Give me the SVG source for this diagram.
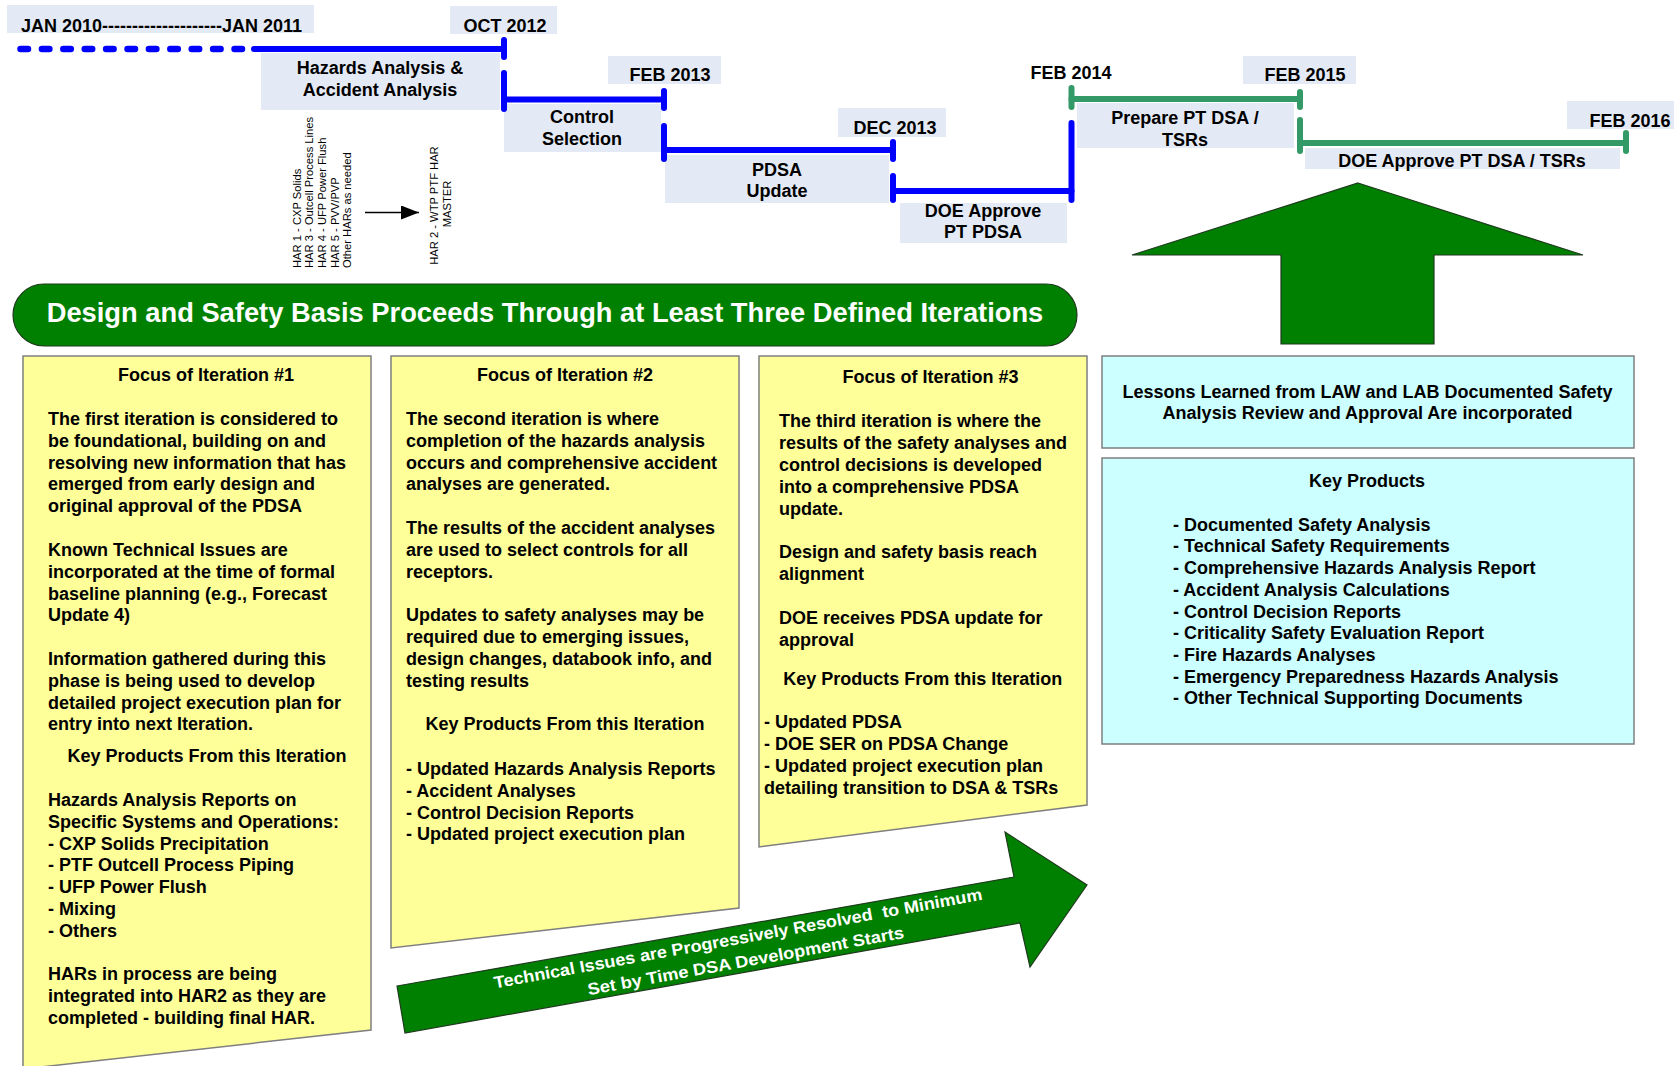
<svg xmlns="http://www.w3.org/2000/svg" width="1674" height="1066" viewBox="0 0 1674 1066">
  <style>
    text { font-family: "Liberation Sans", Arial, sans-serif; font-weight: bold; font-size: 18px; fill: #000; }
    .c { text-anchor: middle; }
    .tag { fill: #e4eaf5; }
    .blue { stroke: #0000ff; stroke-width: 6; stroke-linecap: round; fill: none; }
    .dash { stroke: #0000ff; stroke-width: 6.5; stroke-linecap: round; stroke-dasharray: 7.5 13.9; fill: none; }
    .green { stroke: #339966; stroke-width: 6; stroke-linecap: round; fill: none; }
    .note { font-weight: normal; font-size: 11.2px; }
    .yellow { fill: #ffff99; stroke: #7f7f7f; stroke-width: 1.5; }
    .cyan { fill: #ccffff; stroke: #7f7f7f; stroke-width: 1.5; }
    .bigarrow { fill: #008000; stroke: #1e3a1e; stroke-width: 1.2; }
    .white { fill: #ffffff; }
  </style>
  <defs>
    <marker id="head" viewBox="0 0 18 14" refX="18" refY="7" markerWidth="18" markerHeight="14" markerUnits="userSpaceOnUse" orient="auto">
      <path d="M0,0 L18,7 L0,14 Z" fill="#000"/>
    </marker>
  </defs>

  <rect width="1674" height="1066" fill="#ffffff"/>

  <!-- timeline phase labels -->
  <g id="tag-jan">
    <rect class="tag" x="7" y="5" width="307" height="28"/>
    <text x="21" y="31.5">JAN 2010--------------------JAN 2011</text>
  </g>
  <g id="tag-oct2012">
    <rect class="tag" x="450" y="6" width="107" height="28"/>
    <text class="c" x="505" y="32">OCT 2012</text>
  </g>
  <g id="phase-hazards">
    <rect class="tag" x="261" y="53" width="239" height="57"/>
    <text class="c" x="380" y="74">Hazards Analysis &amp;</text>
    <text class="c" x="380" y="95.5">Accident Analysis</text>
  </g>
  <g id="tag-feb2013">
    <rect class="tag" x="608" y="56" width="113" height="28"/>
    <text class="c" x="670" y="80.7">FEB 2013</text>
  </g>
  <g id="phase-control">
    <rect class="tag" x="504" y="104" width="157" height="48"/>
    <text class="c" x="582" y="123">Control</text>
    <text class="c" x="582" y="145">Selection</text>
  </g>
  <g id="tag-dec2013">
    <rect class="tag" x="838" y="108" width="108" height="29"/>
    <text class="c" x="895" y="134">DEC 2013</text>
  </g>
  <g id="phase-pdsa">
    <rect class="tag" x="665" y="155" width="224" height="48"/>
    <text class="c" x="777" y="176">PDSA</text>
    <text class="c" x="777" y="197.3">Update</text>
  </g>
  <g id="phase-doe-pdsa">
    <rect class="tag" x="900" y="203" width="167" height="40"/>
    <text class="c" x="983" y="216.7">DOE Approve</text>
    <text class="c" x="983" y="238.3">PT PDSA</text>
  </g>
  <g id="tag-feb2014">
    <text class="c" x="1071" y="79.3">FEB 2014</text>
  </g>
  <g id="phase-prepare">
    <rect class="tag" x="1077" y="103" width="217" height="45"/>
    <text class="c" x="1185" y="124">Prepare PT DSA /</text>
    <text class="c" x="1185" y="146">TSRs</text>
  </g>
  <g id="tag-feb2015">
    <rect class="tag" x="1243" y="56" width="113" height="28"/>
    <text class="c" x="1305" y="81">FEB 2015</text>
  </g>
  <g id="phase-doe-dsa">
    <rect class="tag" x="1305" y="148" width="315" height="21"/>
    <text class="c" x="1462" y="166.7">DOE Approve PT DSA / TSRs</text>
  </g>
  <g id="tag-feb2016">
    <rect class="tag" x="1567" y="101" width="107" height="28"/>
    <text class="c" x="1630" y="127.3">FEB 2016</text>
  </g>

  <!-- timeline bars -->
  <g id="connectors">
    <line class="dash" x1="20.5" y1="49" x2="254" y2="49"/>
    <line class="blue" x1="254" y1="49" x2="504" y2="49"/>
    <line class="blue" x1="504" y1="40" x2="504" y2="57"/>
    <line class="blue" x1="504" y1="73" x2="504" y2="109"/>
    <line class="blue" x1="504" y1="99.5" x2="664" y2="99.5"/>
    <line class="blue" x1="664" y1="91" x2="664" y2="108"/>
    <line class="blue" x1="664" y1="126" x2="664" y2="159"/>
    <line class="blue" x1="664" y1="150" x2="893" y2="150"/>
    <line class="blue" x1="893" y1="142" x2="893" y2="159"/>
    <line class="blue" x1="893" y1="176" x2="893" y2="200"/>
    <line class="blue" x1="893" y1="191" x2="1071.5" y2="191"/>
    <line class="blue" x1="1071.5" y1="123" x2="1071.5" y2="200"/>
    <line class="green" x1="1071.5" y1="88" x2="1071.5" y2="107"/>
    <line class="green" x1="1071.5" y1="99" x2="1300" y2="99"/>
    <line class="green" x1="1300" y1="92" x2="1300" y2="107"/>
    <line class="green" x1="1300" y1="120" x2="1300" y2="151"/>
    <line class="green" x1="1300" y1="143" x2="1626" y2="143"/>
    <line class="green" x1="1626" y1="133" x2="1626" y2="151"/>
    <line x1="365" y1="212.5" x2="419" y2="212.5" stroke="#000" stroke-width="1.4" marker-end="url(#head)"/>
  </g>

  <!-- HAR notes (vertical text) -->
  <g id="har-list" transform="translate(300.5 268) rotate(-90)">
    <text class="note">
      <tspan x="0" y="0">HAR 1 - CXP Solids</tspan>
      <tspan x="0" y="12.7">HAR 3 - Outcell Process Lines</tspan>
      <tspan x="0" y="25.4">HAR 4 - UFP Power Flush</tspan>
      <tspan x="0" y="38.1">HAR 5 - PVV/PVP</tspan>
      <tspan x="0" y="50.8">Other HARs as needed</tspan>
    </text>
  </g>
  <g id="har-master" transform="translate(438 204) rotate(-90)">
    <text class="note c">
      <tspan x="0" y="0">HAR 2 - WTP PTF HAR</tspan>
      <tspan x="0" y="12.7">MASTER</tspan>
    </text>
  </g>

  <!-- banner -->
  <g id="banner">
    <rect x="13" y="284" width="1064" height="62" rx="31" ry="31" class="bigarrow" stroke-width="1.5"/>
    <text class="c white" x="545" y="322" style="font-size:27.3px">Design and Safety Basis Proceeds Through at Least Three Defined Iterations</text>
  </g>

  <!-- iteration 1 -->
  <g id="iteration-1">
    <polygon class="yellow" points="23,356 371,356 371,1030 23,1069"/>
    <text class="c" x="206" y="381">Focus of Iteration #1</text>
    <text x="48">
      <tspan x="48" y="425">The first iteration is considered to</tspan>
      <tspan x="48" y="446.8">be foundational, building on and</tspan>
      <tspan x="48" y="468.6">resolving new information that has</tspan>
      <tspan x="48" y="490.4">emerged from early design and</tspan>
      <tspan x="48" y="512.2">original approval of the PDSA</tspan>
      <tspan x="48" y="556">Known Technical Issues are</tspan>
      <tspan x="48" y="577.8">incorporated at the time of formal</tspan>
      <tspan x="48" y="599.6">baseline planning (e.g., Forecast</tspan>
      <tspan x="48" y="621.4">Update 4)</tspan>
      <tspan x="48" y="665">Information gathered during this</tspan>
      <tspan x="48" y="686.8">phase is being used to develop</tspan>
      <tspan x="48" y="708.6">detailed project execution plan for</tspan>
      <tspan x="48" y="730.4">entry into next Iteration.</tspan>
    </text>
    <text class="c" x="207" y="761.7">Key Products From this Iteration</text>
    <text x="48">
      <tspan x="48" y="806">Hazards Analysis Reports on</tspan>
      <tspan x="48" y="827.8">Specific Systems and Operations:</tspan>
      <tspan x="48" y="849.6">- CXP Solids Precipitation</tspan>
      <tspan x="48" y="871.4">- PTF Outcell Process Piping</tspan>
      <tspan x="48" y="893.2">- UFP Power Flush</tspan>
      <tspan x="48" y="915">- Mixing</tspan>
      <tspan x="48" y="936.8">- Others</tspan>
      <tspan x="48" y="980">HARs in process are being</tspan>
      <tspan x="48" y="1001.8">integrated into HAR2 as they are</tspan>
      <tspan x="48" y="1023.6">completed - building final HAR.</tspan>
    </text>
  </g>

  <!-- iteration 2 -->
  <g id="iteration-2">
    <polygon class="yellow" points="391,356 739,356 739,908 391,948"/>
    <text class="c" x="565" y="381">Focus of Iteration #2</text>
    <text x="406">
      <tspan x="406" y="425">The second iteration is where</tspan>
      <tspan x="406" y="446.8">completion of the hazards analysis</tspan>
      <tspan x="406" y="468.6">occurs and comprehensive accident</tspan>
      <tspan x="406" y="490.4">analyses are generated.</tspan>
      <tspan x="406" y="534">The results of the accident analyses</tspan>
      <tspan x="406" y="555.8">are used to select controls for all</tspan>
      <tspan x="406" y="577.6">receptors.</tspan>
      <tspan x="406" y="621.2">Updates to safety analyses may be</tspan>
      <tspan x="406" y="643">required due to emerging issues,</tspan>
      <tspan x="406" y="664.8">design changes, databook info, and</tspan>
      <tspan x="406" y="686.6">testing results</tspan>
    </text>
    <text class="c" x="565" y="730">Key Products From this Iteration</text>
    <text x="406">
      <tspan x="406" y="775">- Updated Hazards Analysis Reports</tspan>
      <tspan x="406" y="796.8">- Accident Analyses</tspan>
      <tspan x="406" y="818.6">- Control Decision Reports</tspan>
      <tspan x="406" y="840.4">- Updated project execution plan</tspan>
    </text>
  </g>

  <!-- iteration 3 -->
  <g id="iteration-3">
    <polygon class="yellow" points="759,356 1087,356 1087,805 759,847"/>
    <text class="c" x="930.5" y="383">Focus of Iteration #3</text>
    <text x="779">
      <tspan x="779" y="427.3">The third iteration is where the</tspan>
      <tspan x="779" y="449.1">results of the safety analyses and</tspan>
      <tspan x="779" y="470.9">control decisions is developed</tspan>
      <tspan x="779" y="492.7">into a comprehensive PDSA</tspan>
      <tspan x="779" y="514.5">update.</tspan>
      <tspan x="779" y="558.3">Design and safety basis reach</tspan>
      <tspan x="779" y="580.1">alignment</tspan>
      <tspan x="779" y="623.7">DOE receives PDSA update for</tspan>
      <tspan x="779" y="645.5">approval</tspan>
    </text>
    <text class="c" x="922.7" y="685">Key Products From this Iteration</text>
    <text x="764">
      <tspan x="764" y="728.3">- Updated PDSA</tspan>
      <tspan x="764" y="750.1">- DOE SER on PDSA Change</tspan>
      <tspan x="764" y="771.9">- Updated project execution plan</tspan>
      <tspan x="764" y="793.7">detailing transition to DSA &amp; TSRs</tspan>
    </text>
  </g>

  <!-- upward arrow toward the DSA milestones -->
  <g id="up-arrow">
    <polygon class="bigarrow" points="1358,183 1583,255 1434,255 1434,344 1281,344 1281,255 1132,255"/>
  </g>

  <!-- lessons learned -->
  <g id="lessons">
    <rect class="cyan" x="1102" y="356" width="532" height="92"/>
    <text class="c" x="1367.5" y="398">Lessons Learned from LAW and LAB Documented Safety</text>
    <text class="c" x="1367.5" y="419">Analysis Review and Approval Are incorporated</text>
  </g>

  <!-- key products -->
  <g id="key-products">
    <rect class="cyan" x="1102" y="458" width="532" height="286"/>
    <text class="c" x="1367" y="487">Key Products</text>
    <text x="1173">
      <tspan x="1173" y="530.7">- Documented Safety Analysis</tspan>
      <tspan x="1173" y="552.4">- Technical Safety Requirements</tspan>
      <tspan x="1173" y="574.1">- Comprehensive Hazards Analysis Report</tspan>
      <tspan x="1173" y="595.8">- Accident Analysis Calculations</tspan>
      <tspan x="1173" y="617.5">- Control Decision Reports</tspan>
      <tspan x="1173" y="639.2">- Criticality Safety Evaluation Report</tspan>
      <tspan x="1173" y="660.9">- Fire Hazards Analyses</tspan>
      <tspan x="1173" y="682.6">- Emergency Preparedness Hazards Analysis</tspan>
      <tspan x="1173" y="704.3">- Other Technical Supporting Documents</tspan>
    </text>
  </g>

  <!-- progress arrow -->
  <g id="progress-arrow">
    <polygon class="bigarrow" points="397,986 1014,877 1005,832 1087,885 1030,967 1020,923 405,1033"/>
    <g transform="translate(743 955) rotate(-10.3)">
      <text class="c white" x="-2" y="-11.5" style="font-size:16.8px" xml:space="preserve" textLength="496" lengthAdjust="spacingAndGlyphs">Technical Issues are Progressively Resolved  to Minimum</text>
      <text class="c white" x="1.6" y="12" style="font-size:16.8px" textLength="321" lengthAdjust="spacingAndGlyphs">Set by Time DSA Development Starts</text>
    </g>
  </g>
</svg>
